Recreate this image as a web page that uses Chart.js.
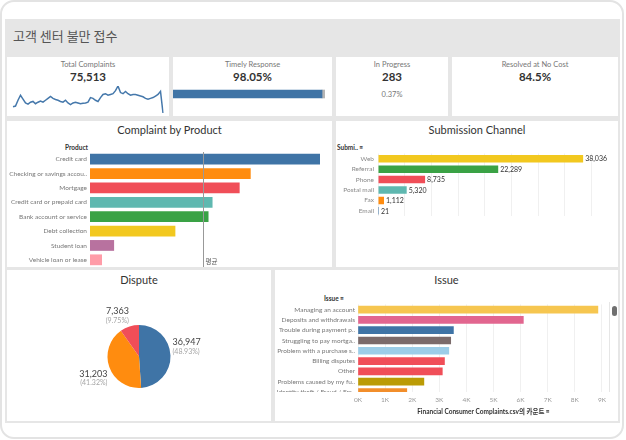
<!DOCTYPE html>
<html>
<head>
<meta charset="utf-8">
<script src="https://cdn.jsdelivr.net/npm/chart.js@4.4.1/dist/chart.umd.min.js"></script>
<style>
body { margin: 0; width: 626px; height: 440px; background: #fff; position: relative; overflow: hidden;
       font-family: Lato, 'Noto Sans', 'Noto Sans CJK KR', sans-serif; }
.frame { position: absolute; left: 0; top: 0; width: 620px; height: 435px; border: 2px solid #e3e3e3; border-radius: 14px; }
.bg { position: absolute; left: 5px; top: 19px; width: 615px; height: 404px; background: #e6e6e6; }
.box { position: absolute; background: #fff; }
.t { position: absolute; white-space: nowrap; }
.kpi-title { font-size: 7.5px; color: #777; text-align: center; }
.kpi-num { font-size: 11.5px; font-weight: bold; color: #333; text-align: center; }
.panel-title { font-size: 11px; color: #333; text-align: center; }
.field { font-size: 6.5px; font-weight: bold; color: #333; }
canvas { position: absolute; }
</style>
</head>
<body>
<div class="frame"></div>
<div class="bg"></div>
<div class="t" style="left:13px;top:27px;font-size:13px;line-height:18px;color:#555;font-family:'Noto Sans CJK KR',sans-serif;">고객 센터 불만 접수</div>

<!-- KPI cards -->
<div class="box" style="left:7px;top:57px;width:162px;height:59px;"></div>
<div class="box" style="left:173px;top:57px;width:159px;height:59px;"></div>
<div class="box" style="left:336px;top:57px;width:112px;height:59px;"></div>
<div class="box" style="left:452px;top:57px;width:166px;height:59px;"></div>

<div class="t kpi-title" style="left:7px;width:162px;top:60px;">Total Complaints</div>
<div class="t kpi-num" style="left:7px;width:162px;top:70px;">75,513</div>
<div class="t kpi-title" style="left:173px;width:159px;top:60px;">Timely Response</div>
<div class="t kpi-num" style="left:173px;width:159px;top:70px;">98.05%</div>
<div class="t kpi-title" style="left:336px;width:112px;top:60px;">In Progress</div>
<div class="t kpi-num" style="left:336px;width:112px;top:70px;">283</div>
<div class="t kpi-title" style="left:336px;width:112px;top:90px;">0.37%</div>
<div class="t kpi-title" style="left:452px;width:166px;top:60px;">Resolved at No Cost</div>
<div class="t kpi-num" style="left:452px;width:166px;top:70px;">84.5%</div>

<canvas id="trend" width="152" height="29" style="left:12px;top:85px;"></canvas>
<canvas id="timely" width="159" height="12" style="left:173px;top:88px;"></canvas>

<!-- middle row -->
<div class="box" style="left:7px;top:121px;width:325px;height:146px;"></div>
<div class="box" style="left:336px;top:121px;width:282px;height:146px;"></div>
<div class="t panel-title" style="left:7px;width:325px;top:123px;">Complaint by Product</div>
<div class="t panel-title" style="left:336px;width:282px;top:123px;">Submission Channel</div>
<div class="t field" style="left:65px;top:144px;">Product</div>
<div class="t field" style="left:337px;top:144px;">Submi.. ≡</div>
<canvas id="product" width="324" height="117" style="left:7px;top:150px;"></canvas>
<canvas id="channel" width="282" height="68" style="left:336px;top:150px;"></canvas>

<!-- bottom row -->
<div class="box" style="left:7px;top:270px;width:264px;height:151px;"></div>
<div class="box" style="left:275px;top:270px;width:343px;height:151px;"></div>
<div class="t panel-title" style="left:7px;width:264px;top:273px;">Dispute</div>
<div class="t panel-title" style="left:275px;width:343px;top:273px;">Issue</div>
<div class="t field" style="left:324px;top:295px;">Issue ≡</div>
<canvas id="dispute" width="264" height="131" style="left:7px;top:290px;"></canvas>
<canvas id="issue" width="343" height="118" style="left:275px;top:300px;"></canvas>
<div style="position:absolute;left:609px;top:302px;width:1px;height:90px;background:#e6e6e6;"></div>
<div style="position:absolute;left:612px;top:306px;width:5px;height:10px;background:#707070;border-radius:3px;"></div>

<script>
// 월별 불만 접수 추이 (Total Complaints 스파크라인)
const trendValues = [1060, 1100, 1400, 1660, 1460, 1260, 1200, 1300, 1340, 1220, 1300, 1360, 1300, 1400, 1500,
    1600, 1500, 1440, 1400, 1340, 1300, 1400, 1260, 1180, 1260, 1300, 1260, 1220, 1240, 1260, 1300, 1540, 1500,
    1400, 1340, 1540, 1700, 1740, 1660, 1700, 1740, 1900, 2140, 1800, 1740, 1860, 1740, 1660, 1700, 1700, 1660,
    1620, 1580, 1500, 1460, 1500, 1540, 1620, 1700, 1860, 740];

const timelyRate = 98.05;

const productLabels = ['Credit card', 'Checking or savings accou..', 'Mortgage', 'Credit card or prepaid card',
    'Bank account or service', 'Debt collection', 'Student loan', 'Vehicle loan or lease'];
const productValues = [19236, 13440, 12516, 10248, 9912, 7140, 2016, 1005];
const productColors = ['#3f74a6', '#ff8c0f', '#f04e58', '#5fb8b0', '#3aa245', '#f2c81f', '#b8729f', '#ff9ca8'];

const channelLabels = ['Web', 'Referral', 'Phone', 'Postal mail', 'Fax', 'Email'];
const channelValues = [38036, 22289, 8735, 5320, 1112, 21];
const channelColors = ['#f2c81f', '#3aa245', '#f04e58', '#5fb8b0', '#ff8c0f', '#3f74a6'];

const disputeLabels = ['N/A', 'No', 'Yes'];
const disputeValues = [36947, 31203, 7363];
const disputeColors = ['#3f74a6', '#ff8c0f', '#f04e58'];

const issueLabels = ['Managing an account', 'Deposits and withdrawals', 'Trouble during payment p..',
    'Struggling to pay mortga..', 'Problem with a purchase s..', 'Billing disputes', 'Other',
    'Problems caused by my fu..', 'Identity theft / Fraud / Em..'];
const issueValues = [8850, 6100, 3520, 3420, 3350, 3190, 3110, 2430, 1800];
const issueColors = ['#f6c650', '#e2668f', '#3f74a6', '#7b6b6b', '#9ccde8', '#f04e58', '#f04e58', '#bb9b05', '#f28e2b'];
const issueTicks = [0, 1000, 2000, 3000, 4000, 5000, 6000, 7000, 8000, 9000];

const FONT = "Lato, 'Noto Sans', 'Noto Sans CJK KR', sans-serif";
Chart.defaults.font.family = FONT;
Chart.defaults.animation = false;
Chart.defaults.responsive = false;
Chart.defaults.plugins.legend.display = false;
Chart.defaults.plugins.tooltip.enabled = false;

// 축 라벨 때문에 플롯 영역이 줄어들지 않게
function noLabelPad(s) {
    s.paddingTop = 0;
    s.paddingBottom = 0;
}

// 스파크라인
new Chart(document.getElementById('trend'), {
    type: 'line',
    data: {
        labels: trendValues.map((v, i) => i),
        datasets: [{ data: trendValues, borderColor: '#4578ab', borderWidth: 1.5, pointRadius: 0, tension: 0 }]
    },
    options: {
        layout: { padding: 1 },
        scales: {
            x: { display: false },
            y: { display: false, min: Math.min(...trendValues), max: Math.max(...trendValues) }
        }
    }
});

// Timely Response 막대
new Chart(document.getElementById('timely'), {
    type: 'bar',
    data: {
        labels: [''],
        datasets: [
            { data: [timelyRate], backgroundColor: '#3f74a6', barThickness: 8 },
            { data: [100 - timelyRate], backgroundColor: '#b5b5b5', barThickness: 8 }
        ]
    },
    options: {
        indexAxis: 'y',
        layout: { padding: { right: 7 } },
        scales: {
            x: { display: false, stacked: true, min: 0, max: 100 },
            y: { display: false, stacked: true }
        }
    }
});

// 평균선
const avgLine = {
    id: 'avgLine',
    afterDatasetsDraw(chart) {
        const { ctx, chartArea, scales: { x } } = chart;
        const mean = productValues.reduce((a, b) => a + b, 0) / productValues.length;
        const px = Math.round(x.getPixelForValue(mean)) + 0.5;
        ctx.save();
        ctx.strokeStyle = '#999';
        ctx.lineWidth = 1;
        ctx.beginPath();
        ctx.moveTo(px, chartArea.top);
        ctx.lineTo(px, chartArea.bottom);
        ctx.stroke();
        ctx.fillStyle = '#555';
        ctx.font = "6.5px 'Noto Sans CJK KR'";
        ctx.textBaseline = 'middle';
        ctx.fillText('평균', px + 2, chartArea.bottom - 5);
        ctx.restore();
    }
};

new Chart(document.getElementById('product'), {
    type: 'bar',
    data: {
        labels: productLabels,
        datasets: [{ data: productValues, backgroundColor: productColors, categoryPercentage: 0.75, barPercentage: 1 }]
    },
    options: {
        indexAxis: 'y',
        layout: { padding: { top: 2, right: 11 } },
        scales: {
            x: { display: false, min: 0, max: Math.max(...productValues) },
            y: {
                afterFit: s => { s.width = 83; noLabelPad(s); },
                grid: { display: false, drawTicks: false },
                border: { display: false },
                ticks: { color: '#777', font: { size: 6.5 }, padding: 3, autoSkip: false }
            }
        }
    },
    plugins: [avgLine]
});

// 막대 끝 값 표시
const valueLabels = {
    id: 'valueLabels',
    afterDatasetsDraw(chart) {
        const { ctx } = chart;
        const meta = chart.getDatasetMeta(0);
        ctx.save();
        ctx.fillStyle = '#333';
        ctx.font = '7px ' + FONT;
        ctx.textBaseline = 'middle';
        meta.data.forEach((bar, i) => {
            ctx.fillText(channelValues[i].toLocaleString('en-US'), bar.x + 2, bar.y + 0.5);
        });
        ctx.restore();
    }
};

new Chart(document.getElementById('channel'), {
    type: 'bar',
    data: {
        labels: channelLabels,
        datasets: [{ data: channelValues, backgroundColor: channelColors, categoryPercentage: 0.72, barPercentage: 1, minBarLength: 1 }]
    },
    options: {
        indexAxis: 'y',
        layout: { padding: { top: 3.5 } },
        scales: {
            x: {
                min: 0, max: 44500,
                afterFit: s => { s.height = 2; },
                grid: { color: '#f0f0f0', drawTicks: false },
                border: { display: false },
                ticks: { display: false, stepSize: 5000 }
            },
            y: {
                afterFit: s => { s.width = 42; noLabelPad(s); },
                grid: { display: false, drawTicks: false },
                border: { display: false },
                ticks: { color: '#888', font: { size: 6.5 }, padding: 4, autoSkip: false }
            }
        }
    },
    plugins: [valueLabels]
});

// 파이 라벨
const pieLabels = {
    id: 'pieLabels',
    afterDraw(chart) {
        const { ctx } = chart;
        const meta = chart.getDatasetMeta(0);
        const total = disputeValues.reduce((a, b) => a + b, 0);
        ctx.save();
        meta.data.forEach((arc, i) => {
            const mid = (arc.startAngle + arc.endAngle) / 2;
            const dx = Math.cos(mid), dy = Math.sin(mid);
            const ax = arc.x + dx * (arc.outerRadius + 2);
            const ay = arc.y + dy * (arc.outerRadius + 2);
            ctx.textAlign = dx > 0.3 ? 'left' : dx < -0.3 ? 'right' : 'center';
            ctx.textBaseline = 'middle';
            const y1 = dy > 0.3 ? ay + 6 : ay - 13;
            ctx.fillStyle = '#444';
            ctx.font = '9px ' + FONT;
            ctx.fillText(disputeValues[i].toLocaleString('en-US'), ax, y1);
            ctx.fillStyle = '#a5a5a5';
            ctx.font = '7px ' + FONT;
            ctx.fillText('(' + (disputeValues[i] / total * 100).toFixed(2) + '%)', ax, y1 + 9);
        });
        ctx.restore();
    }
};

new Chart(document.getElementById('dispute'), {
    type: 'pie',
    data: {
        labels: disputeLabels,
        datasets: [{ data: disputeValues, backgroundColor: disputeColors, borderWidth: 0 }]
    },
    options: {
        layout: { padding: { top: 35, bottom: 33 } }
    },
    plugins: [pieLabels]
});

// 스크롤로 잘린 마지막 항목 라벨
const cutLabel = {
    id: 'cutLabel',
    afterDraw(chart) {
        const { ctx, chartArea, scales: { y } } = chart;
        const i = issueLabels.length - 1;
        ctx.save();
        ctx.beginPath();
        ctx.rect(0, chartArea.top, chartArea.left, chartArea.bottom - chartArea.top);
        ctx.clip();
        ctx.fillStyle = '#777';
        ctx.font = '6.5px ' + FONT;
        ctx.textAlign = 'right';
        ctx.textBaseline = 'middle';
        ctx.fillText(issueLabels[i], chartArea.left - 3, y.getPixelForValue(i));
        ctx.restore();
    }
};

new Chart(document.getElementById('issue'), {
    type: 'bar',
    data: {
        datasets: [{
            data: issueValues.map((v, i) => ({ x: v, y: i })),
            backgroundColor: issueColors,
            barThickness: 7,
            clip: 0
        }]
    },
    options: {
        indexAxis: 'y',
        layout: { padding: { top: 4.4, right: 9 } },
        scales: {
            x: {
                type: 'linear', min: 0, max: 9260,
                afterBuildTicks: s => { s.ticks = issueTicks.map(v => ({ value: v })); },
                afterFit: s => { s.height = 26; s.paddingLeft = 0; s.paddingRight = 0; },
                grid: { color: '#f0f0f0', drawTicks: false },
                border: { display: false },
                ticks: { color: '#999', font: { size: 6.5 }, padding: 4, maxRotation: 0, autoSkip: false,
                    callback: v => (v / 1000) + 'K' },
                title: { display: true, text: 'Financial Consumer Complaints.csv의 카운트 ≡', color: '#333',
                    font: { size: 6.5, weight: 'bold' }, padding: { top: 0, bottom: 2 } }
            },
            y: {
                type: 'linear', reverse: true, min: -0.5, max: 8, offset: false,
                afterBuildTicks: s => { s.ticks = issueLabels.map((l, i) => ({ value: i })); },
                afterFit: s => { s.width = 83; noLabelPad(s); },
                grid: { display: false, drawTicks: false, offset: false },
                border: { display: false },
                ticks: { color: '#777', font: { size: 6.5 }, padding: 3, autoSkip: false,
                    callback: v => v < issueLabels.length - 1 ? issueLabels[v] : '' }
            }
        }
    },
    plugins: [cutLabel]
});
</script>
</body>
</html>
